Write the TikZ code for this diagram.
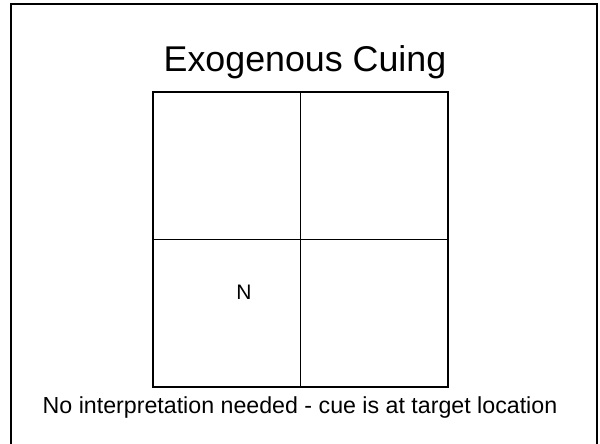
\documentclass[tikz,border=0pt]{standalone}
\usepackage{fontspec}
\setmainfont{Liberation Sans}
\usetikzlibrary{positioning}

\tikzset{
  cell/.style={draw, line width=1.4pt, minimum size=147.5pt, inner sep=0pt, outer sep=0pt},
  caption/.style={font=\fontsize{23.2}{27}\selectfont, anchor=base, inner sep=0pt}
}

\begin{document}
\begin{tikzpicture}[x=1pt, y=1pt]
\useasboundingbox (0,0) rectangle (600,-444);
% slide frame
\draw[line width=2pt] (11,-450) -- (11,-4) -- (597,-4) -- (597,-450);
% title
\node[anchor=base, inner sep=0pt, font=\fontsize{35.8}{42}\selectfont] (title) at (305,-71) {Exogenous Cuing};
% grid of four cells
\node[cell, anchor=north west] (tl) at (153,-92) {};
\node[cell, right=0pt of tl] (tr) {};
\node[cell, below=0pt of tl] (bl) {};
\node[cell, right=0pt of bl] (br) {};
% letter in lower left cell
\node[anchor=base, inner sep=0pt, font=\fontsize{21}{24}\selectfont] (letter) at (244,-299) {N};
% caption
\node[caption] (note) at (300,-413) {No interpretation needed - cue is at target location};
\end{tikzpicture}
\end{document}
